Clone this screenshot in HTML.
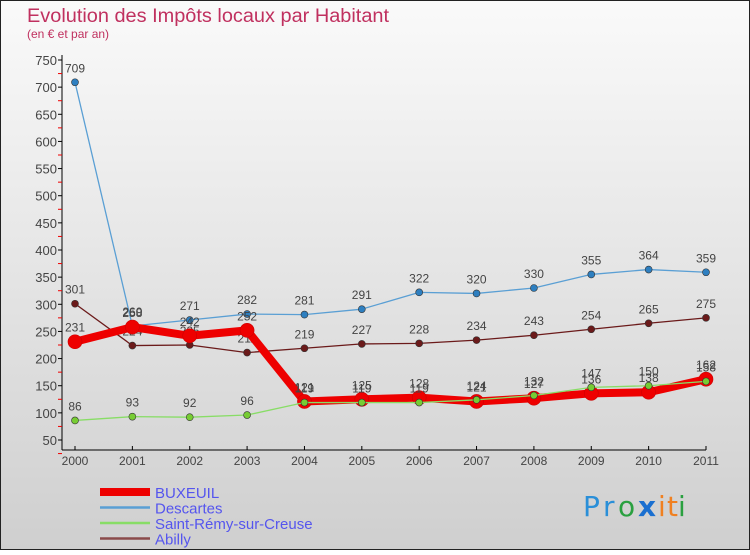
<!DOCTYPE html>
<html><head><meta charset="utf-8"><style>
body{margin:0;width:750px;height:550px;overflow:hidden;font-family:"Liberation Sans",sans-serif}
</style></head><body>
<svg width="750" height="550" xmlns="http://www.w3.org/2000/svg">
<defs><linearGradient id="bg" x1="0" y1="0" x2="0" y2="1"><stop offset="0" stop-color="#fafafa"/><stop offset="1" stop-color="#cfcfcf"/></linearGradient></defs>
<rect x="0.5" y="0.5" width="749" height="549" fill="url(#bg)" stroke="#222"/>
<text x="27" y="22" font-size="19" fill="#c0305f" textLength="362" lengthAdjust="spacingAndGlyphs">Evolution des Impôts locaux par Habitant</text>
<text x="27" y="38" font-size="12" fill="#c0305f">(en € et par an)</text>
<g id="axes"></g>
<g id="series"></g>
<g id="legend"></g>
<g font-size="28" font-family="DejaVu Sans,sans-serif">
<text x="583" y="516" fill="#2a8fd8">P</text><text x="603" y="516" fill="#2a8fd8">r</text><text x="618" y="516" fill="#2aa040">o</text><text x="638" y="516" fill="#1a6fd0" font-weight="bold">x</text><text x="658" y="516" fill="#f08020">i</text><text x="667" y="516" fill="#f08020">t</text><text x="678" y="516" fill="#2aa040">i</text>
</g>
</svg>
<script>
const years=["2000","2001","2002","2003","2004","2005","2006","2007","2008","2009","2010","2011"];
const yTicks=[50,100,150,200,250,300,350,400,450,500,550,600,650,700,750];
const buxeuil=[231,258,242,252,121,125,128,121,127,136,138,162];
const descartes=[709,260,271,282,281,291,322,320,330,355,364,359];
const saintRemy=[86,93,92,96,119,119,119,124,132,147,150,158];
const abilly=[301,224,225,211,219,227,228,234,243,254,265,275];
const NS="http://www.w3.org/2000/svg";
const X=i=>75+i*(706-75)/11;
const Y=v=>440-(v-50)*380/700;
function mk(t,a,p){const e=document.createElementNS(NS,t);for(const k in a)e.setAttribute(k,a[k]);p.appendChild(e);return e;}
const ax=document.getElementById('axes');
const yl=mk('line',{x1:62,y1:55,x2:62,y2:450,stroke:'#000'},ax);


const xl=mk('line',{x1:62,y1:450,x2:706,y2:450,stroke:'#000'},ax);


yTicks.forEach(v=>{
 mk('line',{x1:58,y1:Y(v),x2:62,y2:Y(v),stroke:'#000'},ax);
 if(v<750)mk('line',{x1:58,y1:Y(v+25),x2:62,y2:Y(v+25),stroke:'#e00'},ax);
 const t=mk('text',{x:57,y:Y(v)+5,'text-anchor':'end','font-size':13,fill:'#444'},ax);
 
 
 t.textContent=v;
});
mk('line',{x1:58,y1:Y(25),x2:62,y2:Y(25),stroke:'#e00'},ax);
years.forEach((y,i)=>{
 mk('line',{x1:X(i),y1:446,x2:X(i),y2:450,stroke:'#000'},ax);
 const t=mk('text',{x:X(i),y:465,'text-anchor':'middle','font-size':12,fill:'#444'},ax);
 
 
 t.textContent=y;
});
const sg=document.getElementById('series');
const defs=[
 {name:'abilly',data:abilly,color:'#6b1a1a',w:1.3,r:3.5},
 {name:'descartes',data:descartes,color:'#5a9fd4',w:1.3,r:3.5,dot:'#2e7fc0'},
 {name:'buxeuil',data:buxeuil,color:'#ee0000',w:8,r:7},
 {name:'saint-remy',data:saintRemy,color:'#88dd66',w:1.3,r:3.5,dot:'#77cc33'}
];
defs.forEach(s=>{
 const g=mk('g',{},sg);
 
 
 const p=mk('polyline',{points:s.data.map((v,i)=>X(i)+','+Y(v)).join(' '),fill:'none',stroke:s.color,'stroke-width':s.w,'stroke-linejoin':'round'},g);
 
 
 s.data.forEach((v,i)=>{
  const c=mk('circle',{cx:X(i),cy:Y(v),r:s.r,fill:s.dot||s.color,stroke:s.name==='buxeuil'?'#c00':'#333','stroke-width':0.6},g);
  
  
  const t=mk('text',{x:X(i),y:Y(v)-10,'text-anchor':'middle','font-size':12,fill:'#444'},g);
  
  
  t.textContent=v;
 });
});
const lg=document.getElementById('legend');
const items=[['BUXEUIL','#ee0000',8],['Descartes','#5a9fd4',2.5],['Saint-Rémy-sur-Creuse','#88dd66',2.5],['Abilly','#8a4a4a',2.5]];
items.forEach((it,k)=>{
 const y=492+k*15.5;
 const l=mk('line',{x1:100,y1:y,x2:150,y2:y,stroke:it[1],'stroke-width':it[2]},lg);
 
 
 const t=mk('text',{x:155,y:y+6,'font-size':15,fill:'#5555ee'},lg);
 
 
 t.textContent=it[0];
});
</script>
</body></html>
